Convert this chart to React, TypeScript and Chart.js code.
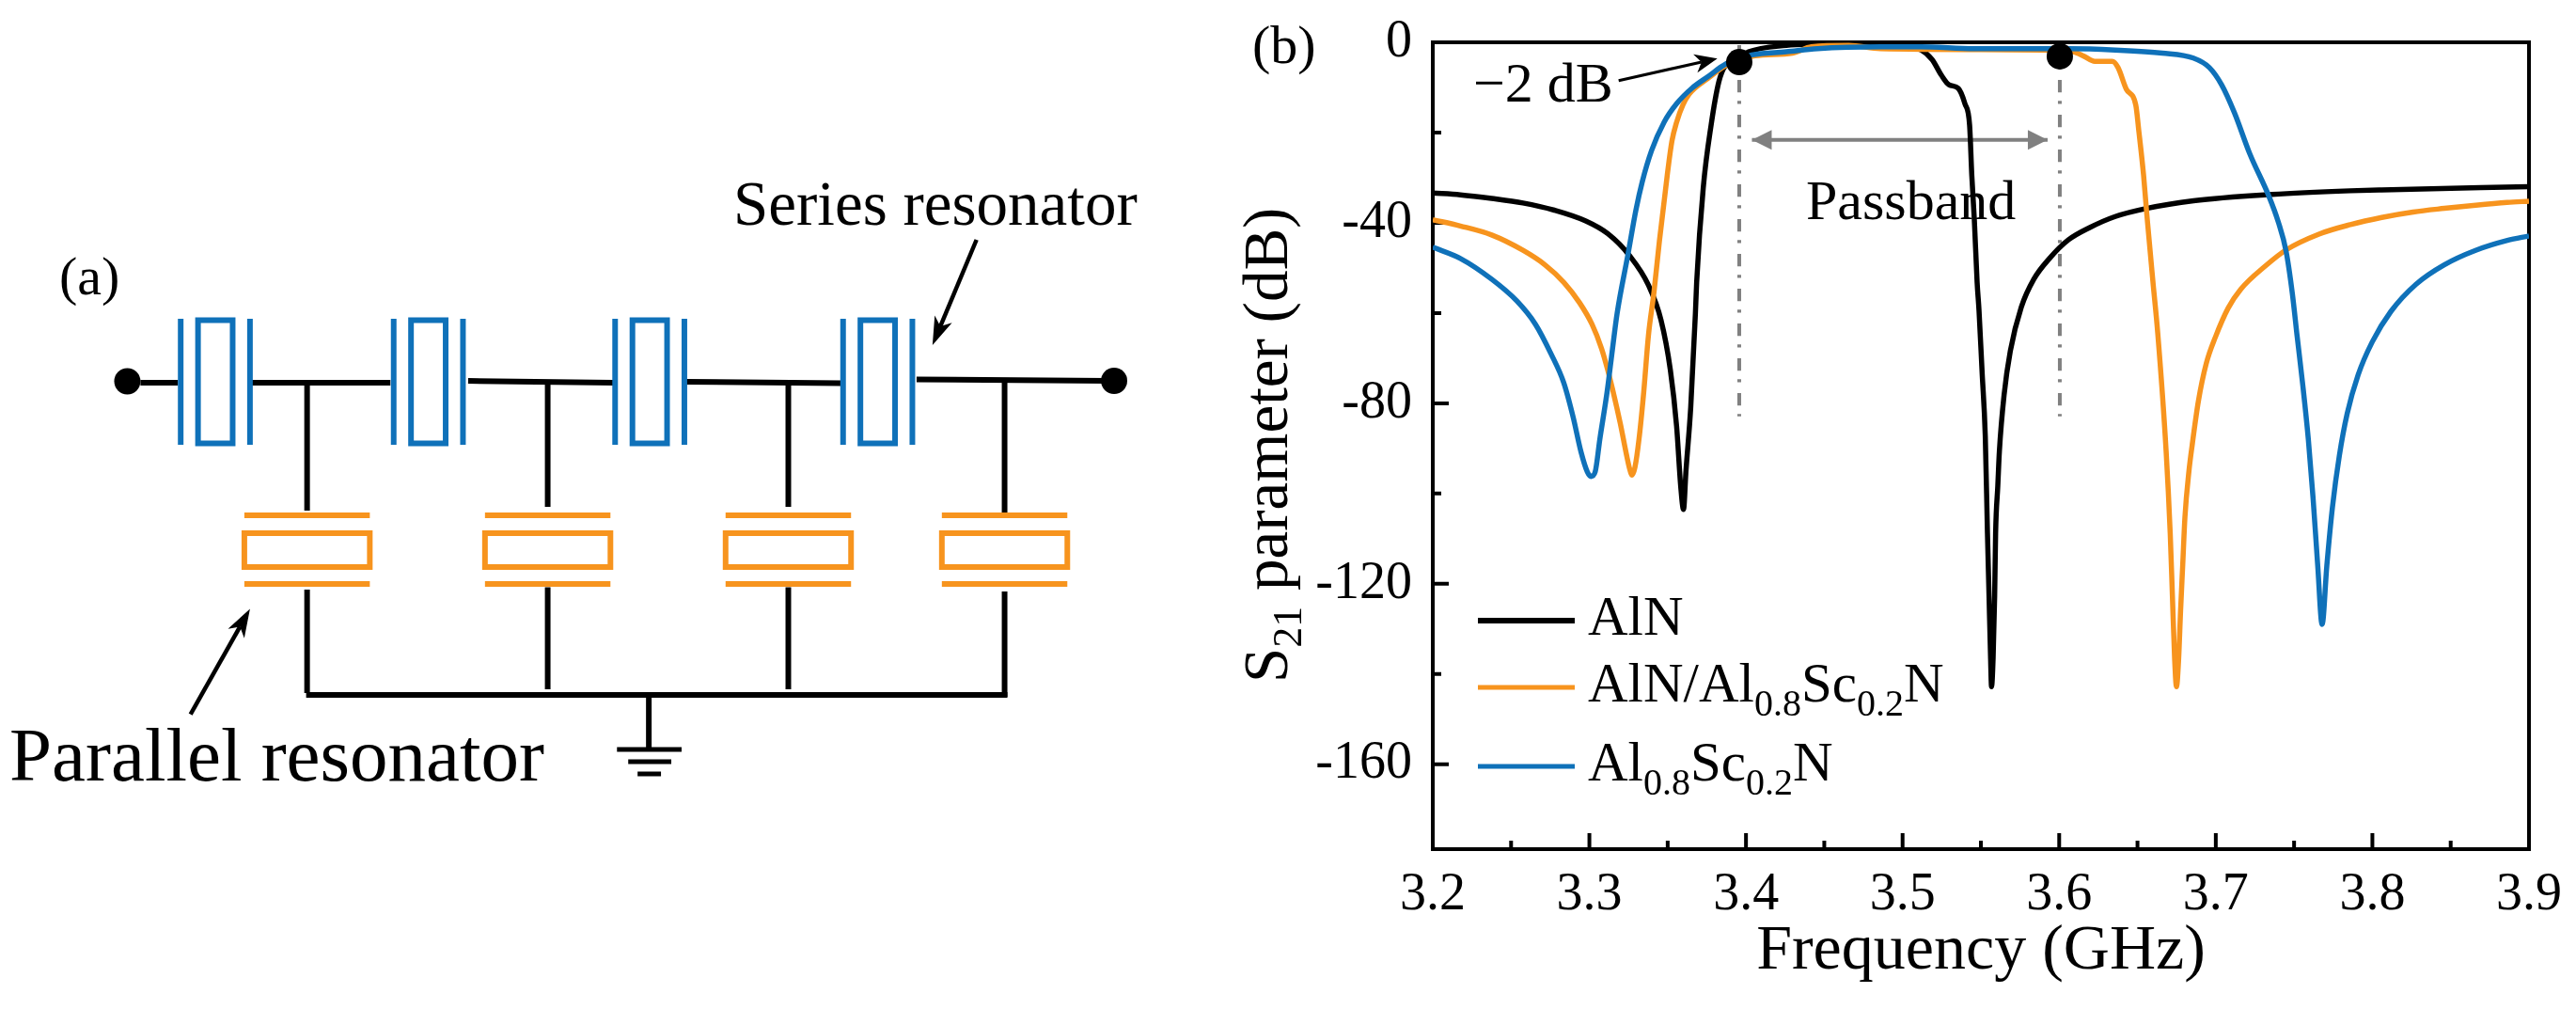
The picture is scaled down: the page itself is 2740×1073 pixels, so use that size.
import React, { useEffect, useRef } from "react";
import { Chart, registerables } from "chart.js";

Chart.register(...registerables);

const FONT = "'Liberation Serif', 'Times New Roman', serif";
const BLACK = "#000000";
const ORANGE = "#F7941E";
const BLUE = "#0F71B9";
const GRAY = "#808080";

const seriesLabels = ["AlN", "AlN/Al0.8Sc0.2N", "Al0.8Sc0.2N"];

const freqAlN = [3.2, 3.2176, 3.2376, 3.2576, 3.2776, 3.2977, 3.3117, 3.3257, 3.3377, 3.3457, 3.3517, 3.3557, 3.3583, 3.3601, 3.3617, 3.3647, 3.3677, 3.3685, 3.3727, 3.3777, 3.3827, 3.3867, 3.3957, 3.4017, 3.4257, 3.4455, 3.47, 3.4858, 3.505, 3.5118, 3.5188, 3.5248, 3.5296, 3.5356, 3.5398, 3.5428, 3.5442, 3.5458, 3.5476, 3.5488, 3.5508, 3.5528, 3.5542, 3.5552, 3.5562, 3.5568, 3.5578, 3.5588, 3.5594, 3.5608, 3.5618, 3.5648, 3.5688, 3.5758, 3.5838, 3.5938, 3.6058, 3.6198, 3.6358, 3.6558, 3.6858, 3.7359, 3.7859, 3.8059, 3.9];
const s21AlN = [-33.4, -33.8, -34.6, -35.6, -37.2, -39.6, -42.4, -47.3, -53.8, -61.5, -72.6, -85.1, -98.3, -103.5, -94.9, -81, -60.1, -53.2, -32.3, -18.4, -8.7, -5.2, -3.4, -2.1, -0.7, -0.4, -0.3, -0.8, -1.2, -1.7, -3.8, -7.3, -9.4, -10.2, -13.6, -18.4, -29.5, -39.2, -53.2, -59.4, -73.3, -87.2, -108.8, -122.6, -136.5, -142.8, -136.5, -122.6, -108.8, -98.3, -90.7, -78.2, -68.4, -58.7, -52.5, -47.9, -43.8, -41, -38.6, -36.8, -35.1, -33.7, -32.9, -32.7, -32];

const freqMix = [3.2, 3.2176, 3.2376, 3.2576, 3.2716, 3.2837, 3.2937, 3.3017, 3.3077, 3.3117, 3.3157, 3.3197, 3.3237, 3.3257, 3.3273, 3.3291, 3.3317, 3.3347, 3.3377, 3.3413, 3.3447, 3.3497, 3.3527, 3.3557, 3.3597, 3.3637, 3.3757, 3.3867, 3.4057, 3.4297, 3.4417, 3.4657, 3.4858, 3.59, 3.6088, 3.6159, 3.6227, 3.6339, 3.6376, 3.6429, 3.6489, 3.6509, 3.6539, 3.6559, 3.6599, 3.6629, 3.6683, 3.6709, 3.6723, 3.6737, 3.6749, 3.6763, 3.6775, 3.6789, 3.6803, 3.6829, 3.6849, 3.6889, 3.6939, 3.6999, 3.7079, 3.716, 3.7319, 3.7449, 3.7659, 3.7859, 3.806, 3.826, 3.846, 3.866, 3.886, 3.9];
const s21Mix = [-39.3, -40.7, -42.7, -46.1, -49.3, -53.2, -57.7, -62.5, -67.8, -72.6, -78.2, -84.4, -91.4, -94.5, -95.9, -94.2, -87.9, -77.5, -65, -55.2, -44.1, -29.5, -21.9, -17.7, -13.9, -11.5, -8, -5.2, -3, -2.4, -1, -0.7, -1.4, -1.7, -2.1, -3.1, -4.2, -4.2, -5.6, -10.4, -13.9, -19.8, -29.5, -37.9, -53.2, -64.3, -90.7, -108.8, -122.7, -136.5, -142.8, -136.5, -126.1, -115.7, -105.2, -94.9, -89.3, -79.5, -71.2, -65.2, -58.9, -54.7, -49.5, -46, -42.5, -40.4, -38.8, -37.6, -36.8, -36.1, -35.5, -35.2];

const freqSc = [3.2, 3.2176, 3.2376, 3.2536, 3.2656, 3.2756, 3.2836, 3.2896, 3.2946, 3.2987, 3.3011, 3.3037, 3.3067, 3.3113, 3.3147, 3.3177, 3.3247, 3.3297, 3.3337, 3.3397, 3.3477, 3.3557, 3.3657, 3.3757, 3.3867, 3.4037, 3.4257, 3.4457, 3.4858, 3.5118, 3.5458, 3.586, 3.6058, 3.6358, 3.6659, 3.6857, 3.6959, 3.7037, 3.7119, 3.7217, 3.7339, 3.7399, 3.7449, 3.7489, 3.7519, 3.7555, 3.7591, 3.7621, 3.7651, 3.7679, 3.7709, 3.7745, 3.7789, 3.7839, 3.7909, 3.7999, 3.8119, 3.8279, 3.8459, 3.8659, 3.8862, 3.9];
const s21Sc = [-45.4, -47.9, -52.5, -57.3, -62.5, -69.1, -75.4, -83, -90.7, -95.2, -96.2, -95.2, -87.9, -77.5, -68.1, -60.1, -46.9, -37.2, -31, -24, -17.7, -13.6, -10.1, -7.6, -4.9, -2.8, -2.1, -1.4, -1, -1, -1.4, -1.4, -1.4, -1.7, -2.4, -3.5, -5.6, -9.4, -15.6, -24.7, -34.1, -39.8, -46.3, -55.7, -65, -75.8, -88, -100.9, -116, -129, -116, -103, -91.6, -82.3, -73.7, -66.4, -59.6, -53.6, -49.3, -46.1, -43.9, -42.9];

const markerFreq = [3.3957, 3.6004];
const markerS21 = [-4.4, -3.1];
const passbandFreq = [3.4038, 3.5926];
const passbandS21 = [-21.6, -21.6];
const guideTop = [0, -82.9];

const xTickValues = [3.2, 3.25, 3.3, 3.35, 3.4, 3.45, 3.5, 3.55, 3.6, 3.65, 3.7, 3.75, 3.8, 3.85, 3.9];
const xTickLabels = ["3.2", "", "3.3", "", "3.4", "", "3.5", "", "3.6", "", "3.7", "", "3.8", "", "3.9"];
const yTickValues = [0, -20, -40, -60, -80, -100, -120, -140, -160];
const yTickLabels = ["0", "", "-40", "", "-80", "", "-120", "", "-160"];

const zip = (xs: number[], ys: number[]) => xs.map((x, i) => ({ x, y: ys[i] }));

const framePlugin = {
  id: "frame",
  beforeDatasetsDraw(chart: any) {
    const { ctx, chartArea: a, scales } = chart;
    ctx.save();
    ctx.strokeStyle = BLACK;
    ctx.lineWidth = 4;
    ctx.strokeRect(a.left, a.top, a.right - a.left, a.bottom - a.top);
    ctx.beginPath();
    xTickValues.forEach((v, i) => {
      const p = scales.x.getPixelForValue(v);
      if (i === 0 || i === xTickValues.length - 1) return;
      ctx.moveTo(p, a.bottom);
      ctx.lineTo(p, a.bottom - (xTickLabels[i] ? 17 : 9));
    });
    yTickValues.forEach((v, i) => {
      if (i === 0) return;
      const p = scales.y.getPixelForValue(v);
      ctx.moveTo(a.left, p);
      ctx.lineTo(a.left + (yTickLabels[i] ? 17 : 9), p);
    });
    ctx.stroke();
    ctx.restore();
  },
  afterDatasetsDraw(chart: any) {
    const { ctx, scales } = chart;
    const y = scales.y.getPixelForValue(passbandS21[0]);
    const l = scales.x.getPixelForValue(passbandFreq[0]);
    const r = scales.x.getPixelForValue(passbandFreq[1]);
    ctx.save();
    ctx.fillStyle = GRAY;
    ctx.beginPath();
    ctx.moveTo(l, y);
    ctx.lineTo(l + 21, y - 10.5);
    ctx.lineTo(l + 21, y + 10.5);
    ctx.closePath();
    ctx.moveTo(r, y);
    ctx.lineTo(r - 21, y - 10.5);
    ctx.lineTo(r - 21, y + 10.5);
    ctx.closePath();
    ctx.fill();
    ctx.restore();
  },
};

const labelParts = (s: string) =>
  s.split(/(\d\.\d)/).filter(Boolean).map((t) => ({ t, sub: /^\d\.\d$/.test(t) }));

const Stealth = ({ x1, y1, x2, y2, len, wid, sw }: any) => {
  const ang = Math.atan2(y2 - y1, x2 - x1);
  const ca = Math.cos(ang);
  const sa = Math.sin(ang);
  const bx = x2 - ca * len;
  const by = y2 - sa * len;
  const nx = x2 - ca * len * 0.72;
  const ny = y2 - sa * len * 0.72;
  return (
    <g>
      <line x1={x1} y1={y1} x2={nx} y2={ny} stroke="#000" strokeWidth={sw} />
      <polygon
        points={`${x2},${y2} ${bx - sa * wid},${by + ca * wid} ${nx},${ny} ${bx + sa * wid},${by - ca * wid}`}
        fill="#000"
      />
    </g>
  );
};

const seriesCenters = [230, 457.5, 694, 937.5];
const parallelCenters = [328, 585, 842, 1073];
const parallelTopEnd = [543, 539, 539, 545];
const parallelLowStart = [627, 624.5, 624.5, 629];
const parallelLowEnd = [737, 733, 733, 741];

const Schematic = () => (
  <g>
    <g transform="scale(0.99585,1)">
      {[
        [150, 407, 190, 407],
        [269, 407, 417, 407],
        [500, 405, 655, 407],
        [733, 406, 898, 407.5],
        [979, 403.5, 1183, 405],
      ].map((s, i) => (
        <line key={i} x1={s[0]} y1={s[1]} x2={s[2]} y2={s[3]} stroke="#000" strokeWidth={6} />
      ))}
      <circle cx={136} cy={405.5} r={14} fill="#000" />
      <circle cx={1190} cy={405} r={14} fill="#000" />
      {seriesCenters.map((c) => (
        <g key={c} stroke={BLUE} strokeWidth={6} fill="none">
          <line x1={c - 37} x2={c - 37} y1={339} y2={473} />
          <line x1={c + 37} x2={c + 37} y1={339} y2={473} />
          <rect x={c - 18.5} y={340.5} width={37} height={131} />
        </g>
      ))}
      {parallelCenters.map((c, i) => (
        <g key={c}>
          <line x1={c} x2={c} y1={407} y2={parallelTopEnd[i]} stroke="#000" strokeWidth={6} />
          <line x1={c} x2={c} y1={parallelLowStart[i]} y2={parallelLowEnd[i]} stroke="#000" strokeWidth={6} />
          <g stroke={ORANGE} strokeWidth={6} fill="none">
            <line x1={c - 67} x2={c + 67} y1={548} y2={548} />
            <line x1={c - 67} x2={c + 67} y1={621} y2={621} />
            <rect x={c - 67} y={567} width={134} height={36} />
          </g>
        </g>
      ))}
      <g stroke="#000" strokeWidth={6}>
        <line x1={327} x2={1076} y1={739} y2={739} />
        <line x1={693} x2={693} y1={739} y2={797} />
        <line x1={659} x2={728} y1={797} y2={797} strokeWidth={5} />
        <line x1={671} x2={717} y1={810} y2={810} strokeWidth={5} />
        <line x1={681} x2={706} y1={823} y2={823} strokeWidth={5} />
      </g>
      <Stealth x1={1043} y1={255} x2={996} y2={367} len={30} wid={10} sw={4.5} />
      <Stealth x1={203.5} y1={759.6} x2={267} y2={647.6} len={30} wid={10} sw={4.5} />
    </g>
    <text x={63} y={313} fontSize={58}>(a)</text>
    <text x={780} y={239} fontSize={67}>Series resonator</text>
    <text x={10} y={830} fontSize={81}>Parallel resonator</text>
  </g>
);

const legendLineY = [660, 731, 815];
const legendTextY = [675, 746, 830];
const legendColors = [BLACK, ORANGE, BLUE];

const Annotations = () => (
  <g>
    <text x={1332} y={67} fontSize={58}>(b)</text>
    <text transform="translate(1369,726) rotate(-90)" fontSize={67}>
      S<tspan dy={15} fontSize={44}>21</tspan>
      <tspan dy={-15}> parameter (dB)</tspan>
    </text>
    <text x={1921} y={233} fontSize={60}>Passband</text>
    <text x={1567} y={108} fontSize={60}>−2 dB</text>
    <Stealth x1={1721.7} y1={85.7} x2={1826.7} y2={62.3} len={24} wid={10} sw={3.2} />
    {seriesLabels.map((s, i) => (
      <g key={s}>
        <line x1={1572} x2={1675} y1={legendLineY[i]} y2={legendLineY[i]} stroke={legendColors[i]} strokeWidth={i === 0 ? 6 : 5} />
        <text x={1689} y={legendTextY[i]} fontSize={59}>
          {labelParts(s).map((p, k, all) => (
            <tspan
              key={k}
              fontSize={p.sub ? 40 : 59}
              dy={p.sub ? 15 : k > 0 && all[k - 1].sub ? -15 : 0}
            >
              {p.t}
            </tspan>
          ))}
        </text>
      </g>
    ))}
  </g>
);

export default function App() {
  const ref = useRef<HTMLCanvasElement>(null);
  useEffect(() => {
    const line = (label: string, xs: number[], ys: number[], color: string, order: number) => ({
      label,
      data: zip(xs, ys),
      borderColor: color,
      backgroundColor: color,
      borderWidth: 5.5,
      pointRadius: 0,
      cubicInterpolationMode: "monotone" as const,
      order,
    });
    const guide = (f: number) => ({
      label: "guide " + f,
      data: zip([f, f], guideTop),
      borderColor: GRAY,
      borderWidth: 4,
      borderDash: [13.3, 9, 3.3, 11.4],
      borderDashOffset: 34,
      pointRadius: 0,
      order: 6,
    });
    const chart = new Chart(ref.current!, {
      type: "line",
      data: {
        datasets: [
          {
            label: "-2 dB points",
            data: zip(markerFreq, markerS21),
            showLine: false,
            pointRadius: 14,
            pointHoverRadius: 14,
            pointBackgroundColor: BLACK,
            pointBorderWidth: 0,
            order: 0,
          },
          line(seriesLabels[2], freqSc, s21Sc, BLUE, 1),
          line(seriesLabels[1], freqMix, s21Mix, ORANGE, 2),
          line(seriesLabels[0], freqAlN, s21AlN, BLACK, 3),
          guide(markerFreq[0]),
          guide(markerFreq[1]),
          {
            label: "Passband",
            data: zip(passbandFreq, passbandS21),
            borderColor: GRAY,
            borderWidth: 4,
            pointRadius: 0,
            order: 5,
          },
        ] as any,
      },
      options: {
        animation: false,
        responsive: false,
        devicePixelRatio: 1,
        layout: { padding: { top: 45, right: 50, left: 0, bottom: 0 } },
        plugins: { legend: { display: false }, tooltip: { enabled: false } },
        scales: {
          x: {
            type: "linear",
            min: 3.2,
            max: 3.9,
            grid: { display: false, drawTicks: false },
            border: { display: false },
            afterBuildTicks: (s: any) => {
              s.ticks = xTickValues.map((value) => ({ value }));
            },
            afterFit: (s: any) => {
              s.height = 170;
              s.paddingLeft = 0;
              s.paddingRight = 0;
            },
            ticks: {
              autoSkip: false,
              maxRotation: 0,
              padding: 16,
              color: BLACK,
              font: { family: FONT, size: 56 },
              callback: (_v: any, i: number) => xTickLabels[i],
            },
            title: {
              display: true,
              text: "Frequency (GHz)",
              color: BLACK,
              font: { family: FONT, size: 68 },
              padding: { top: 0, bottom: 20 },
            },
          },
          y: {
            type: "linear",
            min: -178.8,
            max: 0,
            grid: { display: false, drawTicks: false },
            border: { display: false },
            afterBuildTicks: (s: any) => {
              s.ticks = yTickValues.map((value) => ({ value }));
            },
            afterFit: (s: any) => {
              s.width = 1524;
              s.paddingTop = 0;
              s.paddingBottom = 0;
            },
            ticks: {
              autoSkip: false,
              padding: 22,
              color: BLACK,
              font: { family: FONT, size: 56 },
              callback: (_v: any, i: number) => yTickLabels[i],
            },
          },
        },
      } as any,
      plugins: [framePlugin],
    });
    return () => chart.destroy();
  }, []);
  return (
    <div style={{ position: "absolute", left: 0, top: 0, width: 2740, height: 1073, background: "#fff", overflow: "hidden" }}>
      <style>{`html,body{margin:0;padding:0;background:#fff}`}</style>
      <canvas ref={ref} width={2740} height={1073} style={{ position: "absolute", left: 0, top: 0, display: "block" }} />
      <svg
        width={2740}
        height={1073}
        viewBox="0 0 2740 1073"
        style={{ position: "absolute", left: 0, top: 0, fontFamily: FONT, pointerEvents: "none" }}
        fill="#000"
      >
        <Schematic />
        <Annotations />
      </svg>
    </div>
  );
}
